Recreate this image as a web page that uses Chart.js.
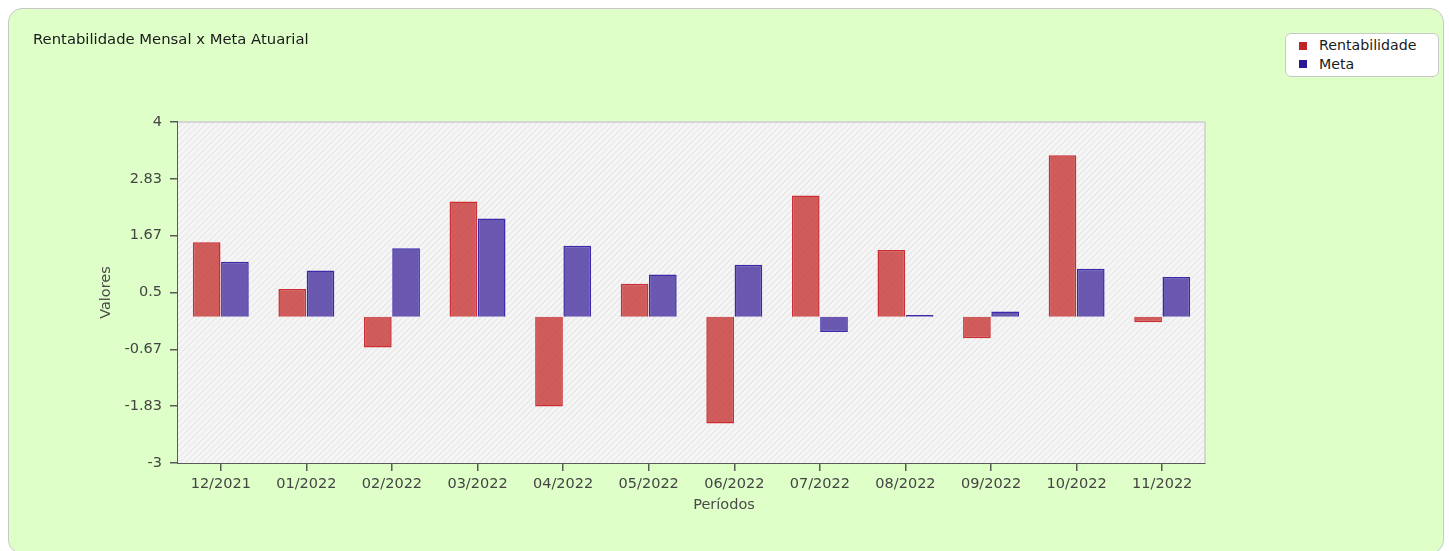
<!DOCTYPE html>
<html><head><meta charset="utf-8">
<script src="https://cdn.jsdelivr.net/npm/chart.js@4.4.0/dist/chart.umd.min.js"></script>
<style>
html,body{margin:0;padding:0;background:#fff;}
#wrap{position:relative;width:1449px;height:551px;overflow:hidden;}
#card{position:absolute;left:8px;top:8px;width:1436px;height:546px;background:#dfffc9;border:1px solid #c8c8c8;border-radius:14px;box-sizing:border-box;}
canvas{position:absolute;left:0;top:0;}
#title{position:absolute;left:33px;top:30px;font:14.8px "DejaVu Sans";color:#1a1a1a;white-space:nowrap;}
#xtitle{position:absolute;left:524px;width:400px;text-align:center;top:496px;font:14.5px "DejaVu Sans";color:#4a4a4a;}
#legend{position:absolute;left:1285px;top:33px;width:154px;height:44px;background:#fff;border:1px solid #c8c8c8;border-radius:6px;box-sizing:border-box;}
.li{position:absolute;left:33px;font:14.2px "DejaVu Sans";color:#1a1a1a;white-space:nowrap;line-height:17px;}
.sq{position:absolute;left:13px;width:8px;height:8px;}
</style></head>
<body>
<div id="wrap">
  <div id="card"></div>
  <canvas id="c" width="1449" height="551"></canvas>
  <div id="title">Rentabilidade Mensal x Meta Atuarial</div>
  <div id="xtitle">Períodos</div>
  <div id="legend">
    <div class="sq" style="top:8px;background:#c0232a"></div><div class="li" style="top:3px">Rentabilidade</div>
    <div class="sq" style="top:26px;background:#2a1898"></div><div class="li" style="top:22px">Meta</div>
  </div>
</div>
<script>
const categories = ['12/2021','01/2022','02/2022','03/2022','04/2022','05/2022','06/2022','07/2022','08/2022','09/2022','10/2022','11/2022'];
const rentabilidade = [1.53, 0.57, -0.63, 2.37, -1.84, 0.68, -2.19, 2.49, 1.37, -0.44, 3.32, -0.11];
const meta = [1.13, 0.95, 1.41, 2.02, 1.46, 0.87, 1.07, -0.31, 0.04, 0.11, 0.99, 0.82];
const yTicks = [4, 2.83, 1.67, 0.5, -0.67, -1.83, -3];

const FONT = 'DejaVu Sans';

const plotBg = {
  id: 'plotBg',
  beforeDatasetsDraw(chart) {
    const {ctx, chartArea: a} = chart;
    ctx.save();
    ctx.fillStyle = '#f6f6f6';
    ctx.fillRect(a.left, a.top, a.right - a.left, a.bottom - a.top);
    ctx.beginPath();
    ctx.rect(a.left, a.top, a.right - a.left, a.bottom - a.top);
    ctx.clip();
    ctx.strokeStyle = '#e9e9e9';
    ctx.lineWidth = 1.5;
    const h = a.bottom - a.top;
    for (let x = a.left - h; x < a.right + 10; x += 6) {
      ctx.beginPath();
      ctx.moveTo(x, a.bottom);
      ctx.lineTo(x + h, a.top);
      ctx.stroke();
    }
    ctx.restore();
    ctx.save();
    ctx.strokeStyle = '#d6d6d6';
    ctx.lineWidth = 2;
    ctx.beginPath();
    ctx.moveTo(a.left, a.top);
    ctx.lineTo(a.right, a.top);
    ctx.lineTo(a.right, a.bottom);
    ctx.stroke();
    ctx.restore();
  }
};

new Chart(document.getElementById('c'), {
  type: 'bar',
  data: {
    labels: categories,
    datasets: [
      { label: 'Rentabilidade', data: rentabilidade,
        backgroundColor: 'rgba(196,40,40,0.75)', borderColor: 'rgba(200,35,40,0.95)', borderWidth: 1.5,
        categoryPercentage: 0.66, barPercentage: 0.98 },
      { label: 'Meta', data: meta,
        backgroundColor: 'rgba(72,50,160,0.8)', borderColor: 'rgba(50,30,165,0.95)', borderWidth: 1.5,
        categoryPercentage: 0.66, barPercentage: 0.98 }
    ]
  },
  options: {
    responsive: false,
    animation: false,
    layout: { padding: { left: 98, top: 122, right: 244, bottom: 48 } },
    plugins: { legend: { display: false }, title: { display: false }, tooltip: { enabled: false } },
    scales: {
      x: {
        grid: { display: true, drawOnChartArea: false, drawTicks: true, tickLength: 8, color: '#5a5a5a', lineWidth: 1.5, offset: false },
        border: { display: true, color: '#5a5a5a', width: 2 },
        ticks: { font: { family: FONT, size: 14.5 }, color: '#444', padding: 5, maxRotation: 0, autoSkip: false },
        afterFit(s) { s.height = 40; }
      },
      y: {
        min: -3, max: 4,
        afterBuildTicks(s) { s.ticks = yTicks.map(v => ({ value: v })); },
        grid: { display: true, drawOnChartArea: false, drawTicks: true, tickLength: 8, color: '#5a5a5a', lineWidth: 1.5 },
        border: { display: true, color: '#5a5a5a', width: 2 },
        ticks: { font: { family: FONT, size: 14.5 }, color: '#444', padding: 8,
          callback: (v) => String(v) },
        title: { display: true, text: 'Valores', font: { family: FONT, size: 14.5 }, color: '#4a4a4a', padding: 0 },
        afterFit(s) { s.width = 80; }
      }
    }
  },
  plugins: [plotBg]
});
</script>
</body></html>
